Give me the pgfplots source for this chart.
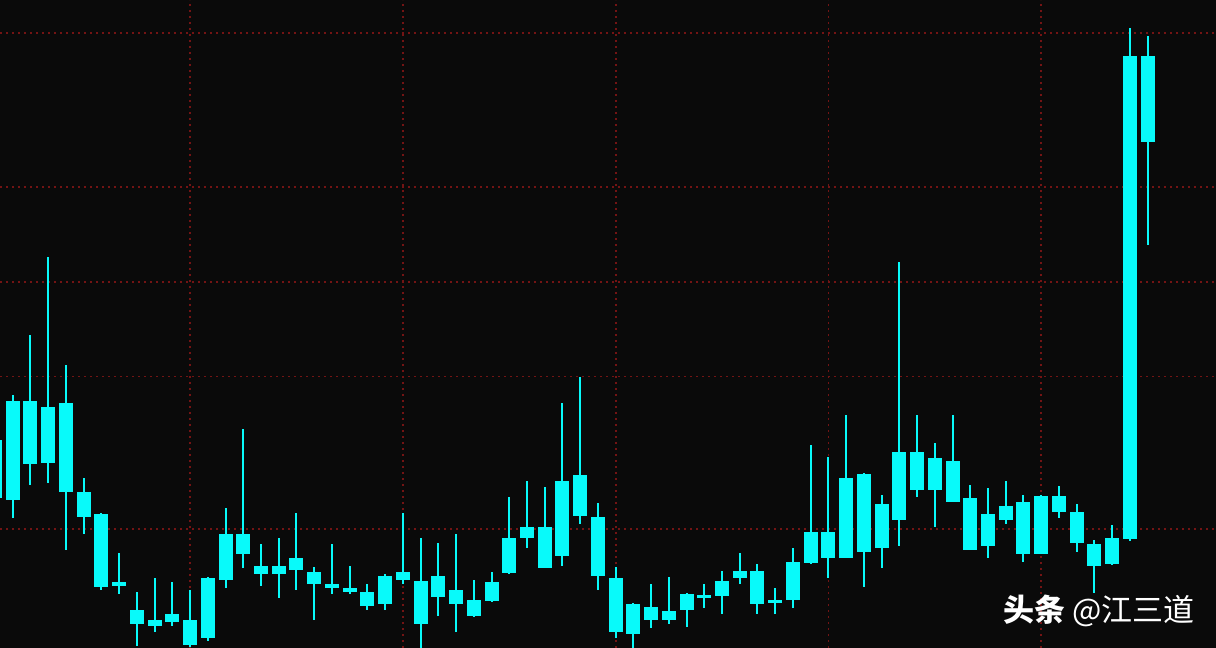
\documentclass[border=0pt]{standalone}
\usepackage{pgfplots}
\pgfplotsset{compat=1.18}
\usepackage{pgfplotstable}
\usepackage{fontspec}
\newfontfamily\cjk{Noto Sans CJK SC}
\definecolor{bg}{RGB}{10,10,10}
\definecolor{gridred}{RGB}{115,20,20}
\definecolor{candle}{RGB}{8,250,250}
% idx high top bot low
\pgfplotstableread{
i high top bot low
0 21.3 20.8 15.0 14.3
1 25.3 24.7 14.8 13.0
2 31.3 24.7 18.4 16.3
3 39.1 24.1 18.5 16.5
4 28.3 24.5 15.6 9.8
5 17.0 15.6 13.1 11.4
6 13.5 13.4 6.1 5.8
7 9.5 6.6 6.2 5.4
8 5.6 3.8 2.4 0.2
9 7.0 2.8 2.2 1.6
10 6.6 3.4 2.6 2.2
11 5.8 2.8 0.3 0.1
12 7.1 7.0 1.0 0.7
13 14.0 11.4 6.8 6.0
14 21.9 11.4 9.4 8.0
15 10.4 8.2 7.4 6.2
16 11.0 8.2 7.4 5.0
17 13.5 9.0 7.8 5.8
18 8.1 7.6 6.4 2.8
19 10.4 6.4 6.0 5.4
20 8.2 6.0 5.6 5.4
21 6.4 5.6 4.2 3.8
22 7.4 7.2 4.4 3.8
23 13.5 7.6 6.8 6.4
24 11.0 6.7 2.4 0.0
25 10.5 7.2 5.1 3.2
26 11.4 5.8 4.4 1.6
27 6.8 4.8 3.2 3.1
28 7.6 6.6 4.7 4.6
29 15.1 11.0 7.5 7.4
30 16.7 12.1 11.0 10.0
31 16.1 12.1 8.0 8.0
32 24.5 16.7 9.2 8.2
33 27.1 17.3 13.2 12.4
34 14.5 13.1 7.2 5.8
35 8.1 7.0 1.6 1.0
36 4.5 4.4 1.4 0.0
37 6.4 4.1 2.8 2.0
38 7.1 3.7 2.8 2.4
39 5.5 5.4 3.8 2.1
40 6.4 5.3 5.0 4.0
41 7.7 6.7 5.2 3.4
42 9.5 7.7 7.0 6.4
43 8.4 7.7 4.4 3.4
44 6.0 4.8 4.5 3.4
45 10.0 8.6 4.8 4.0
46 20.3 11.6 8.5 8.4
47 19.1 11.6 9.0 7.0
48 23.3 17.0 9.0 9.0
49 17.5 17.4 9.6 6.1
50 15.3 14.4 10.0 8.0
51 38.6 19.6 12.8 10.2
52 23.3 19.6 15.8 15.1
53 20.5 19.0 15.8 12.1
54 23.3 18.7 14.6 14.6
55 16.3 15.0 9.8 9.8
56 16.0 13.4 10.2 9.0
57 16.7 14.2 12.8 12.4
58 15.3 14.6 9.4 8.6
59 15.3 15.2 9.4 9.4
60 16.2 15.2 13.6 13.0
61 14.4 13.6 10.5 9.6
62 10.8 10.4 8.2 5.5
63 12.3 11.0 8.4 8.3
64 62.0 59.2 10.9 10.7
65 61.2 59.2 50.6 40.3
}\candles
\begin{document}
\begin{tikzpicture}
\begin{axis}[
  at={(0,0)}, anchor=south west,
  width=608pt, height=324pt, scale only axis,
  xmin=0.28, xmax=68.86, ymin=0, ymax=64.8,
  axis line style={draw=none},
  axis background/.style={fill=bg},
  xtick={11,23,35,47,59},
  ytick={61.5,46.1,36.6,27.15,11.9},
  xticklabels={}, yticklabels={},
  major tick length=0pt,
  grid=major,
  major grid style={gridred, line width=0.9pt, dash pattern=on 1pt off 2pt},
  clip=true,
]
% wicks
\addplot[draw=none, mark=none,
  error bars/.cd, y dir=plus, y explicit, error mark=none,
  error bar style={draw=candle, line width=1pt}]
  table[x=i, y=low, y error expr=\thisrow{high}-\thisrow{low}] {\candles};
% bodies
\addplot[draw=none, mark=none,
  error bars/.cd, y dir=plus, y explicit, error mark=none,
  error bar style={draw=candle, line width=7pt}]
  table[x=i, y=bot, y error expr=\thisrow{top}-\thisrow{bot}] {\candles};
\node[anchor=east, text=white, inner sep=0pt, font=\cjk\fontsize{15.5pt}{16pt}\selectfont]
  at (rel axis cs:0.983,0.057) {{\bfseries 头条} @江三道};
\end{axis}
\pgfresetboundingbox
\useasboundingbox (0,0) rectangle (608pt,324pt);
\end{tikzpicture}
\end{document}
